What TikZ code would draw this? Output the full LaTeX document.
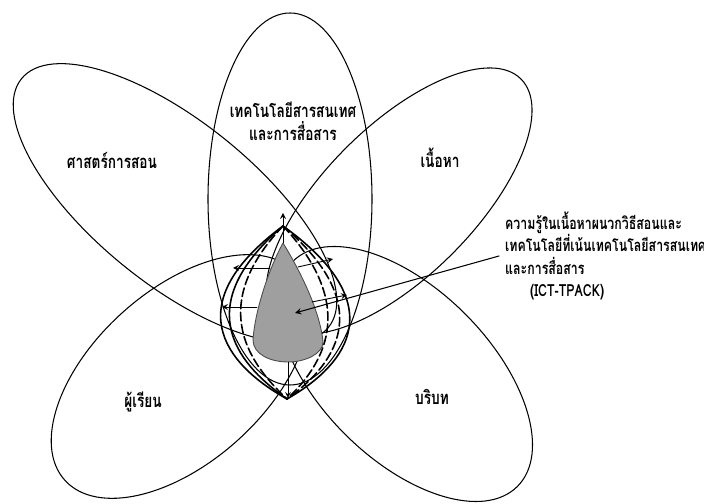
\documentclass[tikz,border=0pt]{standalone}
\usepackage{fontspec}
\newfontfamily\thaifont[Script=Thai,FakeStretch=0.74]{Loma}
\usepackage{tikz}

\begin{document}
\begin{tikzpicture}[>=stealth, font=\thaifont\bfseries\fontsize{10.5}{13}\selectfont, line join=round, line cap=round]
	\tikzset{petal/.style={line width=0.6pt},
		lens/.style={line width=0.9pt},
		spread/.style={->,line width=0.5pt},
		longdash/.style={dash pattern=on 5pt off 2pt}}
	\useasboundingbox (0,0) rectangle (14.08,10.08);
	% Năm hình elip
	\draw[petal] (5.8,6.1) ellipse [x radius=1.64, y radius=3.72];
	\draw[petal,rotate around={-39:(3.5,6.02)}] (3.5,6.02) ellipse [x radius=3.95, y radius=1.62];
	\draw[petal,rotate around={45:(7.98,6.06)}] (7.98,6.06) ellipse [x radius=3.45, y radius=1.5];
	\draw[petal,rotate around={42:(3.6,2.55)}] (3.6,2.55) ellipse [x radius=3.1, y radius=1.72];
	\draw[petal,rotate around={-45:(8.1,2.6)}] (8.1,2.6) ellipse [x radius=3.18, y radius=1.7];
	% Giọt ở giữa
	\coordinate (apex) at (5.66,5.22);
	\coordinate (dropL) at (5.06,3.28);
	\coordinate (dropB) at (5.76,2.84);
	\coordinate (dropR) at (6.46,3.24);
	\coordinate (top) at (5.66,5.56);
	\coordinate (bot) at (5.74,2.1);
	\foreach \a/\ay/\b/\by/\s in {3.4/3.88/4.7/2.68/solid,3.7/3.88/4.86/2.72/solid,4.1/3.92/5.04/2.76/longdash,
		7.2/3.92/6.44/2.76/longdash,7.64/3.88/6.6/2.72/longdash,8.0/3.88/6.76/2.68/solid}
		\draw[lens,\s] (top) .. controls (\a,\ay) and (\b,\by) .. (bot);
	\filldraw[fill=gray!75,draw=gray!60!black,line width=0.5pt] (apex) .. controls (5.4,4.75) and (5.1,3.9) .. (dropL)
		.. controls (5.06,3.0) and (5.4,2.84) .. (dropB)
		.. controls (6.1,2.84) and (6.46,3.0) .. (dropR)
		.. controls (6.4,3.9) and (5.95,4.75) .. (apex);
	% Mũi tên toả ra
	\coordinate (upEnd) at (5.66,5.82);
	\coordinate (downEnd) at (5.76,2.12);
	\coordinate (l1) at (5.4,4.72); \coordinate (l1End) at (4.66,4.72);
	\coordinate (l2) at (5.14,3.94); \coordinate (l2End) at (4.44,3.94);
	\coordinate (r1) at (5.96,4.74); \coordinate (r1End) at (6.66,4.9);
	\coordinate (r2) at (6.24,4.04); \coordinate (r2End) at (6.94,4.18);
	\draw[spread] (apex) -- (upEnd);
	\draw[spread] (dropB) -- (downEnd);
	\draw[spread] (l1) -- (l1End);
	\draw[spread] (l2) -- (l2End);
	\draw[spread] (r1) -- (r1End);
	\draw[spread] (r2) -- (r2End);
	% Nhãn
	\node[align=center] (tech) at (5.86,7.66) {เทคโนโลยีสารสนเทศ\\และการสื่อสาร};
	\node (pedagogy) at (2.24,6.88) {ศาสตร์การสอน};
	\node (content) at (8.8,6.92) {เนื้อหา};
	\node (learner) at (2.86,2.04) {ผู้เรียน};
	\node (context) at (8.64,2.14) {บริบท};
	\node[anchor=west,align=left,font=\thaifont\bfseries\fontsize{9.5}{12.8}\selectfont] (ictlabel) at (9.98,4.96) {ความรู้ในเนื้อหาผนวกวิธีสอนและ\\เทคโนโลยีที่เน้นเทคโนโลยีสารสนเทศ\\และการสื่อสาร\\\hspace*{0.5cm}(ICT-TPACK)};
	\coordinate (dropMid) at (5.9,3.82);
	\draw[->,line width=0.6pt] (ictlabel.west) -- (dropMid);
\end{tikzpicture}
\end{document}
